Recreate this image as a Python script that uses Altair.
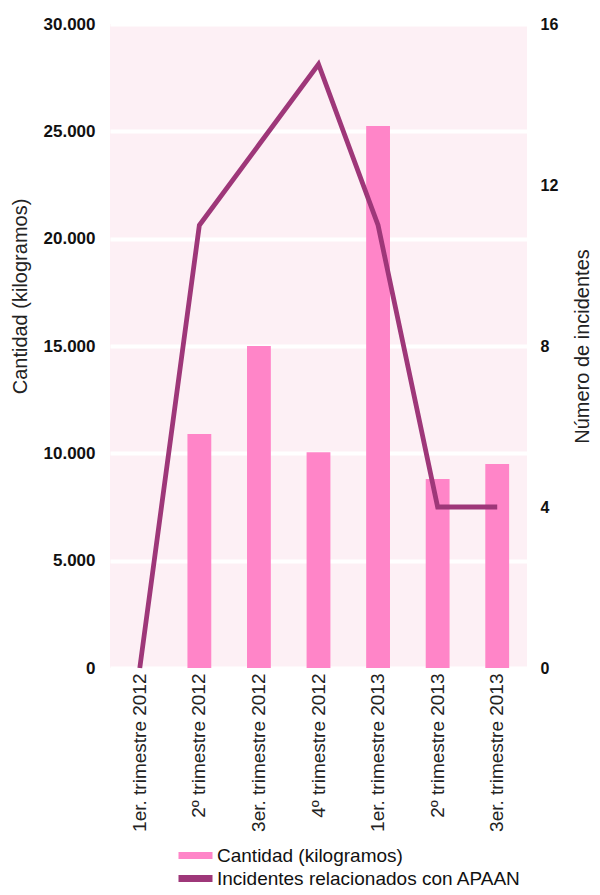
import altair as alt
import pandas as pd

categorias = ["1er. trimestre 2012", "2º trimestre 2012", "3er. trimestre 2012",
              "4º trimestre 2012", "1er. trimestre 2013", "2º trimestre 2013",
              "3er. trimestre 2013"]
cantidad_kg = [0, 10900, 15000, 10050, 25250, 8800, 9500]
incidentes = [0, 11, 13, 15, 11, 4, 4]
series = ["Cantidad (kilogramos)", "Incidentes relacionados con APAAN"]
colores = ["#FF85C8", "#9E3779"]
ticks_kg = [0, 5000, 10000, 15000, 20000, 25000, 30000]
ticks_inc = [0, 4, 8, 12, 16]

df = pd.DataFrame({"cat": categorias, "kg": cantidad_kg, "inc": incidentes,
                   "serie": [series[0]] * len(categorias)})

FONT = "Liberation Sans"

x_enc = alt.X("cat:N", sort=categorias,
              scale=alt.Scale(paddingInner=0.6, paddingOuter=0.3),
              axis=alt.Axis(title=None, labelAngle=270, labelFontSize=19,
                            labelPadding=5, ticks=False, domain=False,
                            labelColor="#222222", labelFont=FONT))

bars = alt.Chart(df).mark_bar().encode(
    x=x_enc,
    y=alt.Y("kg:Q", scale=alt.Scale(domain=[0, 30000], nice=False),
            axis=alt.Axis(title="Cantidad (kilogramos)", values=ticks_kg,
                          labelExpr="replace(format(datum.value, ','), ',', '.')",
                          labelFontSize=17, labelFontWeight="bold", labelPadding=15,
                          labelColor="#111111", ticks=False, domain=False,
                          grid=True, gridColor="white", gridWidth=4, gridOpacity=1,
                          titleFontSize=20, titleFontWeight="normal", titleColor="#222222",
                          titleAngle=270, titleX=-90, titleY=272, titleAlign="center",
                          titleBaseline="middle", labelFont=FONT, titleFont=FONT)),
    color=alt.Color("serie:N",
                    scale=alt.Scale(domain=series, range=colores),
                    legend=alt.Legend(title=None, orient="none", legendX=76, legendY=822,
                                      direction="vertical", labelFontSize=19,
                                      labelFont=FONT, labelColor="#111111", labelLimit=500,
                                      symbolType="M-2.5,-0.5H2.5V0.5H-2.5Z", symbolSize=185,
                                      labelOffset=12, rowPadding=3, padding=0,
                                      symbolStrokeWidth=0, symbolOpacity=1)),
)

line = alt.Chart(df).mark_line(color=colores[1], strokeWidth=4.8).encode(
    x=x_enc,
    y=alt.Y("inc:Q", scale=alt.Scale(domain=[0, 16], nice=False),
            axis=alt.Axis(title="Número de incidentes", orient="right", values=ticks_inc,
                          labelFontSize=16, labelFontWeight="bold", labelPadding=13,
                          labelColor="#111111", ticks=False, domain=False, grid=False,
                          titleFontSize=20, titleFontWeight="normal", titleColor="#222222",
                          titleAngle=270, titleX=55, titleY=322, titleAlign="center",
                          titleBaseline="middle", labelFont=FONT, titleFont=FONT)),
)

chart = alt.layer(bars, line).resolve_scale(y="independent").properties(
    width=417, height=644,
    autosize=alt.AutoSizeParams(type="none"),
    padding={"left": 102, "top": 16, "right": 65, "bottom": 219},
    background="white",
).configure(font=FONT).configure_view(fill="#FDF0F5", strokeWidth=0)

chart.save("out.html", embed_options={"renderer": "svg", "actions": False})
